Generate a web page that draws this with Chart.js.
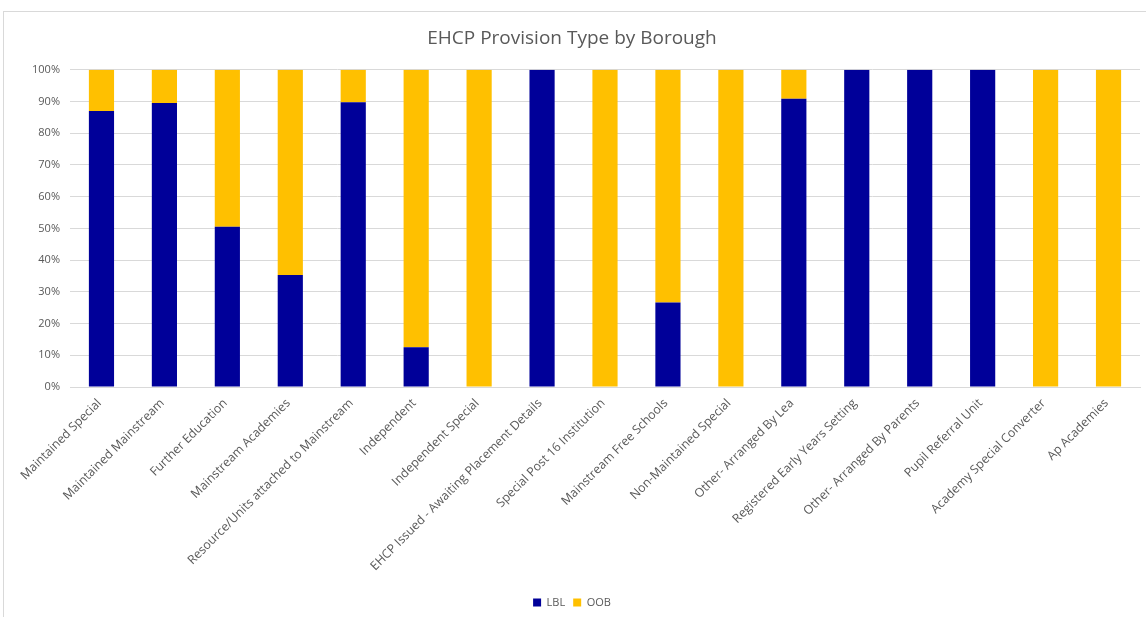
<!DOCTYPE html>
<html>
<head>
<meta charset="utf-8">
<script src="https://cdn.jsdelivr.net/npm/chart.js@4"></script>
<style>
  html, body { margin: 0; padding: 0; background: #fff; overflow: hidden; }
  #frame { position: absolute; left: 3px; top: 11px; width: 1150px; height: 615px;
           border-top: 1px solid #d9d9d9; border-left: 1px solid #d9d9d9; }
  #wrap { position: absolute; left: 0; top: 0; width: 1143px; height: 606px; }
</style>
</head>
<body>
<div id="frame"><div id="wrap"><canvas id="c"></canvas></div></div>
<script>
const categories = [
  "Maintained Special",
  "Maintained Mainstream",
  "Further Education",
  "Mainstream Academies",
  "Resource/Units attached to Mainstream",
  "Independent",
  "Independent Special",
  "EHCP Issued - Awaiting Placement Details",
  "Special Post 16 Institution",
  "Mainstream Free Schools",
  "Non-Maintained Special",
  "Other- Arranged By Lea",
  "Registered Early Years Setting",
  "Other- Arranged By Parents",
  "Pupil Referral Unit",
  "Academy Special Converter",
  "Ap Academies"
];
const lblValues = [87, 89.5, 50.5, 35.3, 89.8, 12.5, 0, 100, 0, 26.6, 0, 90.9, 100, 100, 100, 0, 0];
const oobValues = [13, 10.5, 49.5, 64.7, 10.2, 87.5, 100, 0, 100, 73.4, 100, 9.1, 0, 0, 0, 100, 100];
const yTicks = [0, 10, 20, 30, 40, 50, 60, 70, 80, 90, 100];

const textColor = '#595959';
const font = "'Open Sans', 'Noto Sans', sans-serif";

new Chart(document.getElementById('c'), {
  type: 'bar',
  data: {
    labels: categories,
    datasets: [
      { label: 'LBL', data: lblValues, backgroundColor: '#000099', borderWidth: 0 },
      { label: 'OOB', data: oobValues, backgroundColor: '#FFC000', borderWidth: 0 }
    ]
  },
  options: {
    responsive: true,
    maintainAspectRatio: false,
    animation: false,
    layout: { padding: { left: 0, right: 7, top: 0, bottom: 0 } },
    datasets: { bar: { categoryPercentage: 1.0, barPercentage: 0.4 } },
    plugins: {
      title: {
        display: true,
        text: 'EHCP Provision Type by Borough',
        color: textColor,
        font: { family: font, size: 19, weight: 'normal' },
        padding: { top: 15, bottom: 20 }
      },
      legend: {
        position: 'bottom',
        labels: {
          color: textColor,
          font: { family: font, size: 11 },
          boxWidth: 8,
          boxHeight: 8,
          padding: 8
        }
      },
      tooltip: { enabled: false }
    },
    scales: {
      x: {
        stacked: true,
        grid: { display: false, drawTicks: false },
        border: { display: true, color: '#d9d9d9' },
        ticks: {
          color: textColor,
          font: { family: font, size: 12.3 },
          minRotation: 45,
          maxRotation: 45,
          autoSkip: false,
          padding: 9,
          labelOffset: -2
        },
        afterFit: (scale) => { scale.height = 202; }
      },
      y: {
        stacked: true,
        min: 0,
        max: 100,
        afterBuildTicks: (scale) => { scale.ticks = yTicks.map(v => ({ value: v })); },
        grid: { color: '#d9d9d9', drawTicks: false },
        border: { display: false },
        ticks: {
          color: textColor,
          font: { family: font, size: 11 },
          padding: 10,
          callback: (v) => v + '%'
        },
        afterFit: (scale) => { scale.width = 66; }
      }
    }
  }
});
</script>
</body>
</html>
